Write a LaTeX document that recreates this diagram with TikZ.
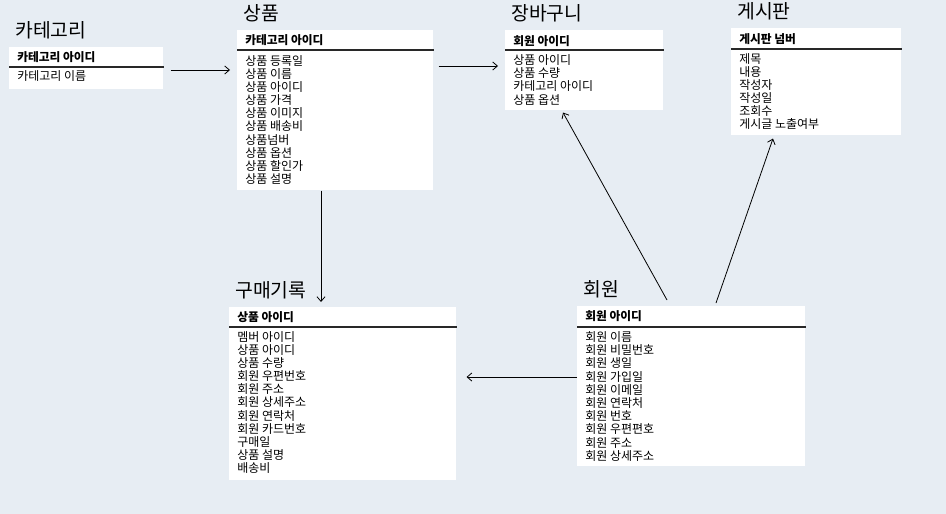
\documentclass[tikz,border=0pt]{standalone}
\usepackage{fontspec}
\setmainfont{Noto Sans CJK KR}
\usepackage{tikz}
\usetikzlibrary{arrows.meta,calc}
\usepackage{xcolor}
\definecolor{erdbg}{RGB}{231,237,243}
\definecolor{erdline}{RGB}{40,40,40}

\begin{document}
\begin{tikzpicture}[x=0.75pt,y=-0.75pt,
  tbl/.style 2 args={rectangle,fill=white,draw=none,inner sep=0pt,anchor=north west,
    minimum width=#1*0.75pt,minimum height=#2*0.75pt},
  ttl/.style={anchor=base west,inner sep=0pt,font=\fontsize{14.5}{15}\selectfont},
  keyf/.style={anchor=west,inner sep=0pt,font=\fontsize{8.8}{9}\selectfont\bfseries},
  fld/.style={anchor=west,inner sep=0pt,font=\fontsize{9}{9}\selectfont},
  hline/.style={erdline,line width=0.8pt},
  link/.style={-{Straight Barb[length=3.5pt,width=6pt]},line width=0.6pt,black}]
% background
\fill[erdbg] (0,0) rectangle (946,514);
% ---- category
\node[tbl={154}{42}] (cat) at (9,47) {};
\node[ttl] (cat-t) at ($(cat.north west)+(6,-10)$) {카테고리};
\node[keyf] (cat-k) at ($(cat.north west)+(8,10)$) {카테고리 아이디};
\draw[hline] ($(cat.north west)+(0,20)$) -- ($(cat.north east)+(0,20)$);
\node[fld] (cat-1) at ($(cat.north west)+(8,29)$) {카테고리 이름};
% ---- product
\node[tbl={196}{160}] (prod) at (237,30) {};
\node[ttl] (prod-t) at ($(prod.north west)+(6,-10)$) {상품};
\node[keyf] (prod-k) at ($(prod.north west)+(8,10)$) {카테고리 아이디};
\draw[hline] ($(prod.north west)+(0,20)$) -- ($(prod.north east)+(0,20)$);
\foreach \t [count=\i] in {상품 등록일,상품 이름,상품 아이디,상품 가격,상품 이미지,
  상품 배송비,상품넘버,상품 옵션,상품 할인가,상품 설명} {
  \node[fld] (prod-\i) at ($(prod.north west)+(8,{30.5+13.2*(\i-1)})$) {\t};
}
% ---- cart
\node[tbl={158}{80}] (cart) at (505,30) {};
\node[ttl] (cart-t) at ($(cart.north west)+(6,-10)$) {장바구니};
\node[keyf] (cart-k) at ($(cart.north west)+(8,11)$) {회원 아이디};
\draw[hline] ($(cart.north west)+(0,20)$) -- ($(cart.north east)+(0,20)$);
\foreach \t [count=\i] in {상품 아이디,상품 수량,카테고리 아이디,상품 옵션} {
  \node[fld] (cart-\i) at ($(cart.north west)+(8,{30.5+13*(\i-1)})$) {\t};
}
% ---- board
\node[tbl={170}{107}] (board) at (731,28) {};
\node[ttl] (board-t) at ($(board.north west)+(6,-10)$) {게시판};
\node[keyf] (board-k) at ($(board.north west)+(8,11)$) {게시판 넘버};
\draw[hline] ($(board.north west)+(0,21)$) -- ($(board.north east)+(0,21)$);
\foreach \t [count=\i] in {제목,내용,작성자,작성일,조회수,게시글 노출여부} {
  \node[fld] (board-\i) at ($(board.north west)+(8,{31+13*(\i-1)})$) {\t};
}
% ---- purchase history
\node[tbl={227}{173}] (buy) at (229,307) {};
\node[ttl] (buy-t) at ($(buy.north west)+(6,-10)$) {구매기록};
\node[keyf] (buy-k) at ($(buy.north west)+(8,10)$) {상품 아이디};
\draw[hline] ($(buy.north west)+(0,20)$) -- ($(buy.north east)+(0,20)$);
\foreach \t [count=\i] in {멤버 아이디,상품 아이디,상품 수량,회원 우편번호,회원 주소,
  회원 상세주소,회원 연락처,회원 카드번호,구매일,상품 설명,배송비} {
  \node[fld] (buy-\i) at ($(buy.north west)+(8,{30+13.1*(\i-1)})$) {\t};
}
% ---- member
\node[tbl={228}{160}] (mem) at (577,306) {};
\node[ttl] (mem-t) at ($(mem.north west)+(6,-10)$) {회원};
\node[keyf] (mem-k) at ($(mem.north west)+(8,10)$) {회원 아이디};
\draw[hline] ($(mem.north west)+(0,21)$) -- ($(mem.north east)+(0,21)$);
\foreach \t [count=\i] in {회원 이름,회원 비밀번호,회원 생일,회원 가입일,회원 이메일,
  회원 연락처,회원 번호,회원 우편편호,회원 주소,회원 상세주소} {
  \node[fld] (mem-\i) at ($(mem.north west)+(8,{31+13.2*(\i-1)})$) {\t};
}
% relations
\draw[link] ($(cat.north east)+(7,23)$) -- ($(prod.north west)+(-7,40)$);
\draw[link] ($(prod.north east)+(5,36)$) -- ($(cart.north west)+(-7,36)$);
\draw[link] ($(prod.south west)+(84,0)$) -- ($(buy.north west)+(92,-5)$);
\draw[link] ($(mem.north west)+(0,71)$) -- ($(buy.north east)+(10,70)$);
\draw[link] ($(mem.north west)+(90,-6)$) -- ($(cart.south west)+(58,2)$);
\draw[link] ($(mem.north west)+(139,-3)$) -- ($(board.south west)+(42,3)$);
\end{tikzpicture}
\end{document}
